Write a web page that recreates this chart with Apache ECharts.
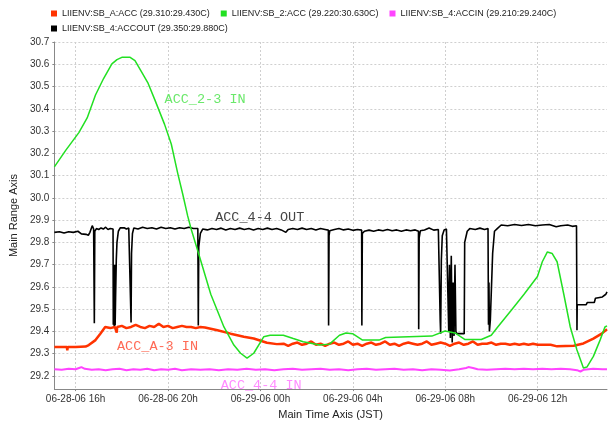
<!DOCTYPE html>
<html><head><meta charset="utf-8">
<script src="https://cdn.jsdelivr.net/npm/echarts@6/dist/echarts.min.js"></script>
<style>html,body{margin:0;padding:0;background:#fff}#c{width:610px;height:425px}</style>
</head><body><div id="c"></div>
<script>
// Hours counted from 06-28-06 00:00 JST
const seriesNames = [
  'LIIENV:SB_A:ACC (29.310:29.430C)',
  'LIIENV:SB_2:ACC (29.220:30.630C)',
  'LIIENV:SB_4:ACCIN (29.210:29.240C)',
  'LIIENV:SB_4:ACCOUT (29.350:29.880C)'
];

const redHours = [15.08,15.4,15.62,15.64,15.66,16.0,16.43,16.57,16.86,17.07,17.28,17.5,17.7,17.78,17.8,18.0,18.2,18.4,18.6,18.8,19.0,19.2,19.4,19.6,19.8,20.0,20.2,20.4,20.6,20.8,21.0,21.2,21.4,21.6,22.14,22.71,23.28,23.71,24.28,24.71,25.0,25.2,25.4,25.6,25.8,26.0,26.2,26.4,26.6,26.8,27.0,27.2,27.4,27.6,27.8,28.0,28.2,28.4,28.6,28.8,29.0,29.2,29.4,29.6,29.8,30.0,30.2,30.4,30.6,30.8,31.0,31.2,31.4,31.6,31.8,32.0,32.2,32.4,32.6,32.8,33.0,33.2,33.4,33.6,33.8,34.0,34.2,34.4,34.6,34.8,35.0,35.2,35.4,35.6,35.8,36.0,36.3,36.56,36.84,37.2,37.56,37.98,38.41,38.77,39.0];
const redValues = [29.33,29.33,29.33,29.315,29.33,29.33,29.332,29.339,29.361,29.39,29.42,29.415,29.42,29.395,29.42,29.425,29.415,29.42,29.43,29.42,29.415,29.425,29.42,29.435,29.42,29.425,29.415,29.42,29.425,29.42,29.42,29.415,29.42,29.418,29.405,29.39,29.376,29.368,29.349,29.343,29.345,29.335,29.345,29.35,29.34,29.345,29.355,29.34,29.345,29.335,29.345,29.35,29.34,29.345,29.355,29.34,29.345,29.335,29.345,29.35,29.34,29.345,29.355,29.34,29.345,29.335,29.345,29.35,29.345,29.34,29.345,29.355,29.34,29.345,29.35,29.345,29.335,29.345,29.35,29.34,29.345,29.355,29.34,29.345,29.345,29.35,29.34,29.345,29.345,29.34,29.345,29.34,29.345,29.34,29.345,29.34,29.34,29.34,29.333,29.335,29.336,29.346,29.368,29.39,29.41];

const greenHours = [15.08,15.57,16.14,16.50,16.86,17.21,17.57,17.79,18.0,18.36,18.57,18.86,19.14,19.43,19.85,20.14,20.42,20.64,20.85,21.0,21.43,21.85,22.42,22.85,23.14,23.42,23.71,24.14,24.42,24.99,25.42,25.85,26.57,26.99,27.42,27.70,27.99,28.42,29.13,29.42,31.42,31.99,32.42,32.84,33.56,33.99,34.27,34.84,35.41,35.99,36.20,36.42,36.63,36.84,37.13,37.41,37.70,37.98,38.13,38.41,38.70,38.91,39.0];
const greenValues = [30.139,30.213,30.293,30.359,30.462,30.536,30.602,30.621,30.631,30.631,30.616,30.565,30.514,30.44,30.33,30.242,30.11,30.015,29.919,29.86,29.713,29.567,29.42,29.339,29.302,29.28,29.302,29.376,29.383,29.383,29.368,29.354,29.339,29.343,29.383,29.393,29.39,29.361,29.361,29.373,29.379,29.402,29.393,29.364,29.364,29.383,29.42,29.493,29.567,29.647,29.713,29.757,29.75,29.713,29.567,29.42,29.317,29.236,29.24,29.288,29.361,29.42,29.425];

const magentaHours = [15.08,15.4,15.7,16.0,16.15,16.25,16.4,16.7,17.0,17.3,17.6,17.9,18.2,18.5,18.8,19.1,19.4,19.7,20.0,20.3,20.6,21.0,21.4,21.8,22.2,22.6,23.0,23.4,23.8,24.2,24.6,25.0,25.4,25.8,26.2,26.6,27.0,27.4,27.8,28.2,28.6,29.0,29.4,29.8,30.2,30.6,31.0,31.4,31.8,32.2,32.6,32.9,33.0,33.2,33.4,33.8,34.2,34.6,35.0,35.4,35.8,36.2,36.6,37.0,37.4,37.7,37.85,38.0,38.4,38.8,39.0];
const magentaValues = [29.23,29.228,29.232,29.23,29.236,29.24,29.232,29.228,29.23,29.226,29.23,29.232,29.226,29.23,29.228,29.232,29.226,29.23,29.228,29.232,29.226,29.23,29.228,29.23,29.226,29.23,29.228,29.232,29.228,29.23,29.226,29.23,29.232,29.228,29.23,29.232,29.228,29.23,29.226,29.23,29.232,29.228,29.23,29.232,29.228,29.23,29.226,29.23,29.228,29.225,29.23,29.236,29.24,29.236,29.23,29.228,29.23,29.232,29.23,29.232,29.23,29.232,29.23,29.232,29.23,29.226,29.22,29.228,29.232,29.23,29.23];

const blackHours = [15.08,15.3,15.5,15.7,15.9,16.1,16.25,16.3,16.45,16.55,16.62,16.68,16.72,16.78,16.80,16.81,16.83,16.9,17.0,17.1,17.2,17.3,17.4,17.5,17.62,17.63,17.65,17.67,17.69,17.71,17.73,17.76,17.79,17.85,17.93,18.0,18.1,18.2,18.3,18.38,18.40,18.42,18.46,18.52,18.7,18.9,19.1,19.3,19.5,19.7,19.9,20.1,20.3,20.5,20.7,20.9,21.1,21.29,21.31,21.33,21.40,21.5,21.7,21.9,22.1,22.3,22.5,22.7,22.9,23.1,23.3,23.5,23.7,23.9,24.1,24.3,24.5,24.7,24.9,25.1,25.2,25.4,25.6,25.8,26.0,26.2,26.4,26.6,26.8,26.94,26.95,26.97,27.0,27.2,27.4,27.6,27.8,28.0,28.2,28.38,28.39,28.41,28.5,28.7,28.9,29.1,29.3,29.5,29.7,29.9,30.1,30.3,30.5,30.7,30.84,30.85,30.87,30.92,31.1,31.3,31.5,31.7,31.76,31.78,31.80,31.83,31.87,31.95,32.05,32.13,32.15,32.18,32.22,32.26,32.30,32.34,32.38,32.42,32.46,32.50,32.82,32.84,32.95,33.06,33.3,33.5,33.7,33.85,33.87,33.89,33.91,33.95,34.05,34.13,34.25,34.42,34.7,35.0,35.3,35.6,35.9,36.2,36.5,36.8,37.0,37.3,37.5,37.68,37.70,37.71,38.1,38.15,38.45,38.5,38.8,38.95,39.0];
const blackValues = [29.845,29.848,29.842,29.848,29.845,29.85,29.838,29.832,29.836,29.832,29.845,29.852,29.875,29.86,29.865,29.437,29.85,29.862,29.858,29.865,29.86,29.868,29.858,29.862,29.86,29.43,29.70,29.42,29.70,29.427,29.55,29.72,29.80,29.85,29.865,29.858,29.866,29.86,29.865,29.86,29.44,29.75,29.84,29.865,29.86,29.868,29.862,29.866,29.86,29.868,29.862,29.866,29.86,29.866,29.862,29.868,29.862,29.862,29.427,29.78,29.84,29.86,29.856,29.862,29.858,29.864,29.856,29.862,29.858,29.864,29.858,29.862,29.856,29.862,29.858,29.864,29.858,29.862,29.856,29.845,29.858,29.862,29.858,29.864,29.858,29.862,29.856,29.862,29.858,29.855,29.427,29.83,29.852,29.858,29.862,29.856,29.86,29.854,29.858,29.855,29.427,29.84,29.85,29.855,29.85,29.856,29.852,29.858,29.852,29.856,29.85,29.856,29.852,29.856,29.85,29.41,29.82,29.852,29.856,29.865,29.855,29.858,29.855,29.45,29.39,29.72,29.83,29.856,29.86,29.858,29.40,29.70,29.37,29.74,29.35,29.62,29.38,29.70,29.40,29.39,29.39,29.80,29.85,29.862,29.858,29.864,29.858,29.862,29.43,29.62,29.40,29.45,29.75,29.85,29.862,29.878,29.875,29.88,29.876,29.88,29.875,29.878,29.88,29.87,29.875,29.878,29.872,29.875,29.405,29.52,29.52,29.53,29.53,29.549,29.555,29.567,29.578];

const xTicks = [16, 20, 24, 28, 32, 36];
const xTickLabels = ['06-28-06 16h','06-28-06 20h','06-29-06 00h','06-29-06 04h','06-29-06 08h','06-29-06 12h'];
const yTicks = [29.2,29.3,29.4,29.5,29.6,29.7,29.8,29.9,30.0,30.1,30.2,30.3,30.4,30.5,30.6,30.7];

const annotationTexts = ['ACC_A-3 IN', 'ACC_2-3 IN', 'ACC_4-4 IN', 'ACC_4-4 OUT'];
const annotationHours = [17.79, 19.85, 22.28, 22.04];
const annotationValues = [29.334, 30.442, 29.156, 29.914];

const lineColors = ['#ff3300', '#22e022', '#ff44ff', '#000000'];
const labelColors = ['#ff6a55', '#6ae86a', '#ff8cff', '#444444'];
const lineWidths = [2.5, 1.5, 2, 1.6];
const zOrder = [3, 4, 2, 1];

const zip = (a, b) => a.map((v, i) => [v, b[i]]);
const allData = [zip(redHours, redValues), zip(greenHours, greenValues), zip(magentaHours, magentaValues), zip(blackHours, blackValues)];

const series = seriesNames.map((name, i) => ({
  name: name,
  type: 'line',
  data: allData[i],
  showSymbol: false,
  symbol: 'none',
  z: zOrder[i],
  color: lineColors[i],
  lineStyle: { color: lineColors[i], width: lineWidths[i] },
  markPoint: {
    symbol: 'circle', symbolSize: 0, silent: true, animation: false,
    data: [{
      coord: [annotationHours[i], annotationValues[i]],
      label: {
        show: true, position: 'right', distance: 0,
        formatter: annotationTexts[i], color: labelColors[i],
        fontFamily: 'Liberation Mono', fontSize: 13.5
      }
    }]
  }
}));

const legendCommon = {
  icon: 'rect', itemWidth: 6, itemHeight: 6, itemGap: 11, padding: 0, left: 51,
  textStyle: { fontSize: 9, color: '#222', fontFamily: 'Liberation Sans' }
};

const chart = echarts.init(document.getElementById('c'), null, { renderer: 'canvas' });
chart.setOption({
  animation: false,
  backgroundColor: '#fff',
  legend: [
    Object.assign({}, legendCommon, { top: 9, data: seriesNames.slice(0, 3) }),
    Object.assign({}, legendCommon, { top: 24, data: seriesNames.slice(3) })
  ],
  grid: { left: 48.5, right: 3, top: 42, bottom: 28, containLabel: false },
  xAxis: {
    type: 'value', min: 15.08, max: 39.0,
    name: 'Main Time Axis (JST)', nameLocation: 'middle', nameGap: 16,
    nameTextStyle: { fontSize: 11, color: '#222', fontFamily: 'Liberation Sans' },
    axisLine: { show: true, onZero: false, lineStyle: { color: '#888', width: 1 } },
    axisTick: { show: true, length: 2, customValues: xTicks, lineStyle: { color: '#888' } },
    axisLabel: {
      customValues: xTicks, margin: 5, fontSize: 10, color: '#333', fontFamily: 'Liberation Sans',
      formatter: v => xTickLabels[xTicks.indexOf(v)] || ''
    },
    splitLine: { show: true, lineStyle: { type: [2, 2], color: '#cfcfcf', width: 1 } }
  },
  yAxis: {
    type: 'value', min: 29.141, max: 30.7,
    name: 'Main Range Axis', nameLocation: 'middle', nameGap: 30,
    nameTextStyle: { fontSize: 11, color: '#222', fontFamily: 'Liberation Sans' },
    axisLine: { show: true, onZero: false, lineStyle: { color: '#888', width: 1 } },
    axisTick: { show: true, length: 2, customValues: yTicks, lineStyle: { color: '#888' } },
    axisLabel: {
      customValues: yTicks, margin: 5, fontSize: 10, color: '#333', fontFamily: 'Liberation Sans',
      formatter: v => v.toFixed(1)
    },
    splitLine: { show: true, lineStyle: { type: [2, 2], color: '#cfcfcf', width: 1 } }
  },
  series: series
});
</script>
</body></html>
